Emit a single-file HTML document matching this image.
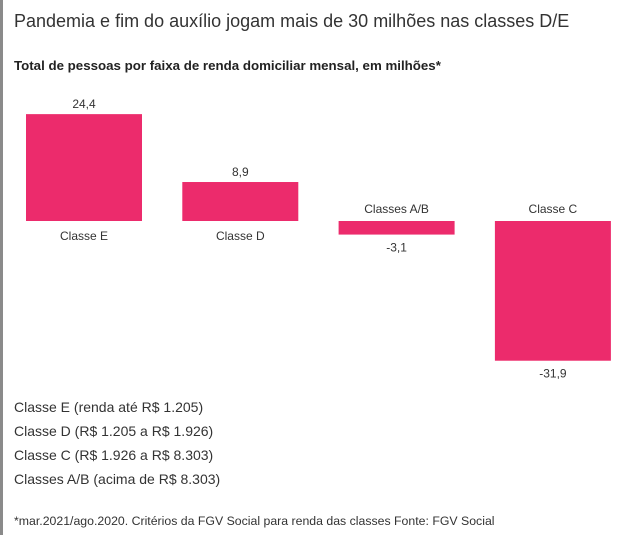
<!DOCTYPE html>
<html><head><meta charset="utf-8"><style>
body{margin:0;width:633px;height:535px;background:#fff;font-family:"Liberation Sans",sans-serif;color:#333;position:relative;overflow:hidden}
#border{position:absolute;left:0;top:0;width:3px;height:535px;background:#8a8a8a}
#title{position:absolute;left:14px;top:11px;font-size:18px;color:#333;white-space:nowrap}
#sub{position:absolute;left:14px;top:58px;font-size:13.3px;font-weight:bold;color:#222;white-space:nowrap}
.leg{position:absolute;left:14px;font-size:14px;color:#333;white-space:nowrap}
#note{position:absolute;left:14px;top:514px;font-size:12.3px;color:#333;white-space:nowrap}
svg text{font-family:"Liberation Sans",sans-serif;font-size:12px;fill:#333}
</style></head><body>
<div id="border"></div>
<div id="title">Pandemia e fim do auxílio jogam mais de 30 milhões nas classes D/E</div>
<div id="sub">Total de pessoas por faixa de renda domiciliar mensal, em milhões*</div>
<svg id="chart" width="633" height="400" style="position:absolute;left:0;top:0"></svg>
<div class="leg" style="top:399px">Classe E (renda até R$ 1.205)</div>
<div class="leg" style="top:423px">Classe D (R$ 1.205 a R$ 1.926)</div>
<div class="leg" style="top:447px">Classe C (R$ 1.926 a R$ 8.303)</div>
<div class="leg" style="top:471px">Classes A/B (acima de R$ 8.303)</div>
<div id="note">*mar.2021/ago.2020. Critérios da FGV Social para renda das classes Fonte: FGV Social</div>
<script>
const categories=["Classe E","Classe D","Classes A/B","Classe C"];
const values=[24.4,8.9,-3.1,-31.9];
const labels=["24,4","8,9","-3,1","-31,9"];
const svg=document.getElementById('chart');
const NS="http://www.w3.org/2000/svg";
const zeroY=221, scale=4.38, x0=26, step=156.3, bw=116;
const y=v=>zeroY-v*scale;
const x=i=>x0+i*step;
categories.forEach((c,i)=>{
  const v=values[i];
  const r=document.createElementNS(NS,'rect');
  r.setAttribute('x',x(i));r.setAttribute('width',bw);
  r.setAttribute('y',Math.min(y(v),zeroY));r.setAttribute('height',Math.abs(y(v)-zeroY));
  r.setAttribute('fill','#ec2b6c');
  
  
  svg.appendChild(r);
  const vt=document.createElementNS(NS,'text');
  vt.setAttribute('x',x(i)+bw/2);vt.setAttribute('text-anchor','middle');
  vt.setAttribute('y',v>=0?y(v)-6:y(v)+17);
  vt.textContent=labels[i];
  
  
  svg.appendChild(vt);
  const ct=document.createElementNS(NS,'text');
  ct.setAttribute('x',x(i)+bw/2);ct.setAttribute('text-anchor','middle');
  ct.setAttribute('y',v>=0?zeroY+19:zeroY-8);
  ct.textContent=c;
  
  
  svg.appendChild(ct);
});
</script>
</body></html>
